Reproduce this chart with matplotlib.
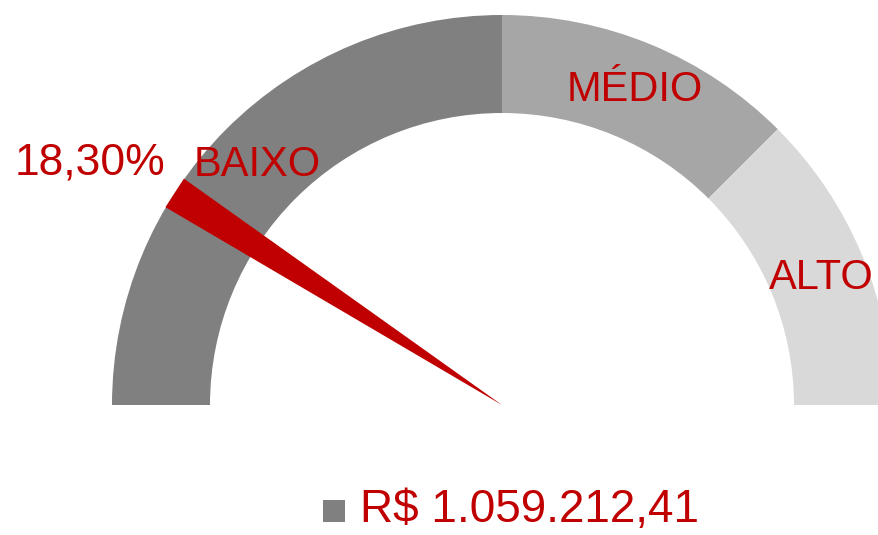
import numpy as np
import matplotlib.pyplot as plt
from matplotlib.patches import Wedge, Polygon, Rectangle

# gauge bands (percent of the half circle) and their labels
bands = [0, 50, 75, 100]
band_labels = ['BAIXO', 'MÉDIO', 'ALTO']
band_colors = ['#808080', '#a6a6a6', '#d9d9d9']
value = 18.30
value_label = '18,30%'
amount_label = 'R$ 1.059.212,41'

red = '#c00000'
cx, cy = 502, 130          # gauge centre in pixel units
r_out, r_in = 390, 292

fig = plt.figure(figsize=(8.79, 5.35), dpi=100)
ax = fig.add_axes([0, 0, 1, 1])
ax.set_xlim(0, 879)
ax.set_ylim(0, 535)
ax.axis('off')

def pct_to_deg(p):
    return 180 - p / 100 * 180

for i, lab in enumerate(band_labels):
    a1 = pct_to_deg(bands[i + 1])
    a2 = pct_to_deg(bands[i])
    ax.add_patch(Wedge((cx, cy), r_out, a1, a2, width=r_out - r_in,
                       facecolor=band_colors[i], edgecolor='none'))
    mid = np.deg2rad((a1 + a2) / 2)
    r_lab = 346
    ax.text(cx + r_lab * np.cos(mid), cy + r_lab * np.sin(mid) - 16, lab,
            ha='center', va='baseline', color=red, fontsize=30,
            family=['Liberation Sans', 'DejaVu Sans'])

# needle
ang = np.deg2rad(pct_to_deg(value))
ux, uy = np.cos(ang), np.sin(ang)
px, py = -uy, ux
hw = 17
needle = Polygon([(cx, cy),
                  (cx + r_out * ux + hw * px, cy + r_out * uy + hw * py),
                  (cx + r_out * ux - hw * px, cy + r_out * uy - hw * py)],
                 closed=True, facecolor=red, edgecolor='none')
ax.add_patch(needle)

ax.text(165, 360, value_label, ha='right', va='baseline', color=red,
        fontsize=32, family=['Liberation Sans', 'DejaVu Sans'])

# legend
ax.add_patch(Rectangle((323, 13), 22, 22, facecolor='#808080', edgecolor='none'))
ax.text(360, 13, amount_label, ha='left', va='baseline', color=red,
        fontsize=33, family=['Liberation Sans', 'DejaVu Sans'])

fig.savefig('out.png', dpi=100)
